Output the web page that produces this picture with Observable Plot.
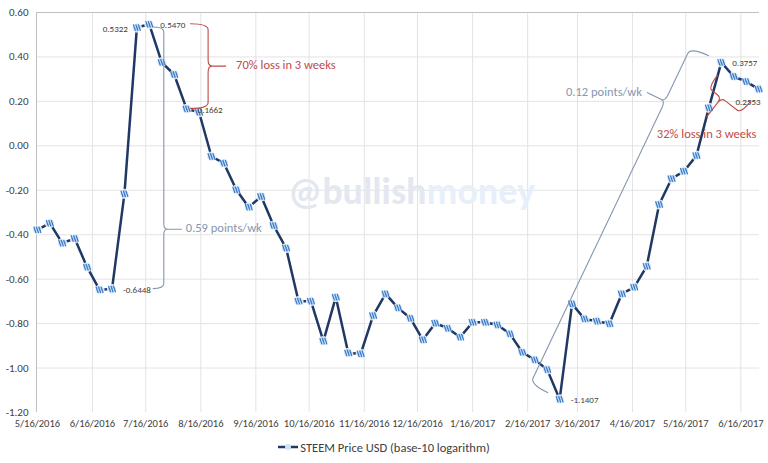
<!DOCTYPE html>
<html><head><meta charset="utf-8">
<script src="https://cdn.jsdelivr.net/npm/d3@7"></script>
<script src="https://cdn.jsdelivr.net/npm/@observablehq/plot@0.6"></script>
<style>
body{margin:0;background:#fff;font-family:Carlito,Lato,sans-serif;}
#chart{width:768px;height:432px;}
#legend{width:768px;height:30px;display:flex;align-items:center;justify-content:center;font-size:12.5px;color:#404040;}
#legend svg{margin-right:2px;}
</style></head><body>
<div id="chart"></div>
<div id="legend"><svg width="20" height="10"><line x1="0" y1="5" x2="20" y2="5" stroke="#1f3864" stroke-width="2.5"/><circle cx="10" cy="5" r="3" fill="#cfe2f6"/></svg><span>STEEM Price USD (base-10 logarithm)</span></div>
<script>
const weekDates = [
"2016-05-16","2016-05-23","2016-05-30","2016-06-06","2016-06-13","2016-06-20","2016-06-27",
"2016-07-04","2016-07-11","2016-07-18","2016-07-25","2016-08-01","2016-08-08","2016-08-15",
"2016-08-22","2016-08-29","2016-09-05","2016-09-12","2016-09-19","2016-09-26","2016-10-03",
"2016-10-10","2016-10-17","2016-10-24","2016-10-31","2016-11-07","2016-11-14","2016-11-21",
"2016-11-28","2016-12-05","2016-12-12","2016-12-19","2016-12-26","2017-01-02","2017-01-09",
"2017-01-16","2017-01-23","2017-01-30","2017-02-06","2017-02-13","2017-02-20","2017-02-27",
"2017-03-06","2017-03-13","2017-03-20","2017-03-27","2017-04-03","2017-04-10","2017-04-17",
"2017-04-24","2017-05-01","2017-05-08","2017-05-15","2017-05-22","2017-05-29","2017-06-05",
"2017-06-12","2017-06-19","2017-06-26"];
const steemLog = [
-0.378,-0.348,-0.438,-0.417,-0.546,-0.648,-0.6448,
-0.216,0.5322,0.5470,0.376,0.321,0.1662,0.151,
-0.048,-0.078,-0.198,-0.276,-0.228,-0.359,-0.460,
-0.699,-0.699,-0.879,-0.681,-0.932,-0.936,-0.764,
-0.666,-0.729,-0.776,-0.873,-0.798,-0.821,-0.861,
-0.794,-0.794,-0.806,-0.846,-0.929,-0.963,-1.007,
-1.1407,-0.711,-0.779,-0.789,-0.801,-0.666,-0.636,
-0.542,-0.264,-0.148,-0.114,-0.044,0.171,0.3757,
0.312,0.289,0.2553];
const xTickDates = ["2016-05-16","2016-06-16","2016-07-16","2016-08-16","2016-09-16","2016-10-16","2016-11-16","2016-12-16","2017-01-16","2017-02-16","2017-03-16","2017-04-16","2017-05-16","2017-06-16"];
const xTickLabels = ["5/16/2016","6/16/2016","7/16/2016","8/16/2016","9/16/2016","10/16/2016","11/16/2016","12/16/2016","1/16/2017","2/16/2017","3/16/2017","4/16/2017","5/16/2017","6/16/2017"];
const yTicks = [-1.2,-1.0,-0.8,-0.6,-0.4,-0.2,0,0.2,0.4,0.6];
const yTickLabels = ["-1.20","-1.00","-0.80","-0.60","-0.40","-0.20","0.00","0.20","0.40","0.60"];
const xDomain = ["2016-05-15T12:00","2017-06-26T12:00"];
// value labels: index into series, text
const valueLabels = [
 {i:8, text:"0.5322", side:"left"},
 {i:9, text:"0.5470", side:"right"},
 {i:12, text:"0.1662", side:"right"},
 {i:6, text:"-0.6448", side:"right"},
 {i:42, text:"-1.1407", side:"right"},
 {i:55, text:"0.3757", side:"right"},
 {i:58, text:"0.2553", side:"below"}
];
// braces between two series points
const braceNotes = [
 {from:[12,9], to:[12,12], text:"70% loss in 3 weeks", color:"#be4b48"},
 {from:[9,8], to:[9,6], text:"0.59 points/wk", color:"#8497b0"},
 {from:[42,42], to:[55,55], text:"0.12 points/wk", color:"#8497b0"},
 {from:[55,55], to:[58,58], text:"32% loss in 3 weeks", color:"#be4b48"}
];
const watermarkParts = ["@bullish", "money"];
// brace styling (pixel offsets, depth, tip position)
const braceStyle = [
 {oa:[4,0], ob:[4,0], d:18, e:4, t:0.5, conn:14, r:6, side:1, tdx:10, tdy:0, anchor:"start"},
 {oa:[4,0], ob:[4,0], d:11, e:4, t:0.773, conn:14, r:5, side:1, tdx:4, tdy:0, anchor:"start"},
 {oa:[-11,-6], ob:[-12,-6], d:20, e:4, t:0.84, conn:16, r:7, side:1, tdx:-5, tdy:0, anchor:"end"},
 {oa:[-3,13], ob:[-7,12], d:16, e:6, t:0.4, conn:18, r:5, side:-1, tdx:0, tdy:18, anchor:"middle"}
];

const parse = s => new Date(s + (s.length===10 ? "T00:00Z" : "Z"));
const data = weekDates.map((d,i)=>({date:parse(d), v:steemLog[i]}));
const xTicksD = xTickDates.map(parse);
const xLabelMap = new Map(xTicksD.map((d,i)=>[+d, xTickLabels[i]]));

const steemSymbol = {
  draw(ctx, size) {
    const r = Math.sqrt(size/Math.PI);
    for (const k of [-1,0,1]) {
      ctx.moveTo(k*r*0.62 - r*0.28, -r*0.8);
      ctx.lineTo(k*r*0.62 + r*0.28, r*0.8);
    }
  }
};

const lbls = valueLabels.map(l => ({date:data[l.i].date, v:data[l.i].v, text:l.text, side:l.side}));
const font = "Carlito,Lato,sans-serif";

const plot = Plot.plot({
  width:768, height:432,
  marginLeft:36, marginRight:9, marginTop:12, marginBottom:20,
  style:{fontFamily:font, color:"#404040", background:"#fff"},
  x:{type:"utc", domain:xDomain.map(parse)},
  y:{domain:[yTicks[0], yTicks[yTicks.length-1]]},
  marks:[
    Plot.ruleY(yTicks.slice(1, -1), {stroke:"#e3e3e3", strokeWidth:1}),
    Plot.ruleX(xTicksD.slice(1), {stroke:"#e3e3e3", strokeWidth:1}),
    Plot.ruleY([yTicks[yTicks.length-1]], {stroke:"#bfbfbf", strokeWidth:1}),
    Plot.ruleX([xDomain[0]].map(parse), {stroke:"#bfbfbf", strokeWidth:1}),
    Plot.axisY(yTicks, {tickSize:0, tickPadding:8, fontSize:11, tickFormat:d=>yTickLabels[yTicks.indexOf(d)], label:null}),
    Plot.axisX(xTicksD, {tickSize:0, tickPadding:7, fontSize:10.5, tickFormat:d=>xLabelMap.get(+d), label:null}),
    Plot.line(data, {x:"date", y:"v", stroke:"#1f3864", strokeWidth:2.5}),
    Plot.dot(data, {x:"date", y:"v", r:4.6, fill:"#d3e5f7", fillOpacity:0.9, stroke:"#ffffff", strokeWidth:0.8}),
    Plot.dot(data, {x:"date", y:"v", r:4, symbol:steemSymbol, stroke:"#3479cc", strokeWidth:1.2, fill:"none"}),
    Plot.text(lbls.filter(d=>d.side==="right"), {x:"date", y:"v", text:"text", textAnchor:"start", dx:11, dy:1, fontSize:9, fill:"#404040"}),
    Plot.text(lbls.filter(d=>d.side==="left"), {x:"date", y:"v", text:"text", textAnchor:"end", dx:-9, dy:2, fontSize:9, fill:"#404040"}),
    Plot.text(lbls.filter(d=>d.side==="below"), {x:"date", y:"v", text:"text", textAnchor:"end", dx:2, dy:13, fontSize:9, fill:"#404040"})
  ]
});
document.getElementById("chart").appendChild(plot);

// watermark and braces drawn through the plot's own scales
const sx = plot.scale("x"), sy = plot.scale("y");
const X = d => sx.apply(d), Y = v => sy.apply(v);
const svg = d3.select(plot);
const lineG = plot.querySelector('g[aria-label="line"]');
const wm = document.createElementNS("http://www.w3.org/2000/svg","text");
wm.setAttribute("x", 288); wm.setAttribute("y", 204);
wm.setAttribute("text-anchor", "start");
wm.setAttribute("font-family", font); wm.setAttribute("font-weight","bold"); wm.setAttribute("font-size", 38);
wm.innerHTML = '<tspan fill="#e3e8f0">' + watermarkParts[0] + '</tspan><tspan fill="#e7f0fa">' + watermarkParts[1] + '</tspan>';
plot.insertBefore(wm, lineG);

const g = svg.append("g").attr("fill","none");
braceNotes.forEach((b, k) => {
  const st = braceStyle[k];
  const ax = X(data[b.from[0]].date) + st.oa[0], ay = Y(data[b.from[1]].v) + st.oa[1];
  const bx = X(data[b.to[0]].date) + st.ob[0], by = Y(data[b.to[1]].v) + st.ob[1];
  const L = Math.hypot(bx-ax, by-ay);
  const ux = (bx-ax)/L, uy = (by-ay)/L;
  const nx = st.side*uy, ny = -st.side*ux;
  const P = (s, h) => [ax + ux*s + nx*h, ay + uy*s + ny*h];
  const tL = st.t*L, d = st.d, r = st.r;
  const p = d3.path();
  p.moveTo(...P(0,0));
  p.quadraticCurveTo(...P(0,d), ...P(r,d));
  p.lineTo(...P(tL-r,d));
  p.quadraticCurveTo(...P(tL,d), ...P(tL,d+st.e));
  p.quadraticCurveTo(...P(tL,d), ...P(tL+r,d));
  p.lineTo(...P(L-r,d));
  p.quadraticCurveTo(...P(L,d), ...P(L,0));
  p.moveTo(...P(tL,d+st.e));
  const end = P(tL, d+st.e+st.conn);
  p.lineTo(...end);
  g.append("path").attr("d", p.toString()).attr("stroke", b.color).attr("stroke-width", 1.1);
  svg.append("text").attr("x", end[0]+st.tdx).attr("y", end[1]+st.tdy)
    .attr("text-anchor", st.anchor).attr("dominant-baseline","middle")
    .attr("font-family", font).attr("font-size", 12.5).attr("fill", b.color).text(b.text);
});
</script>
</body></html>
